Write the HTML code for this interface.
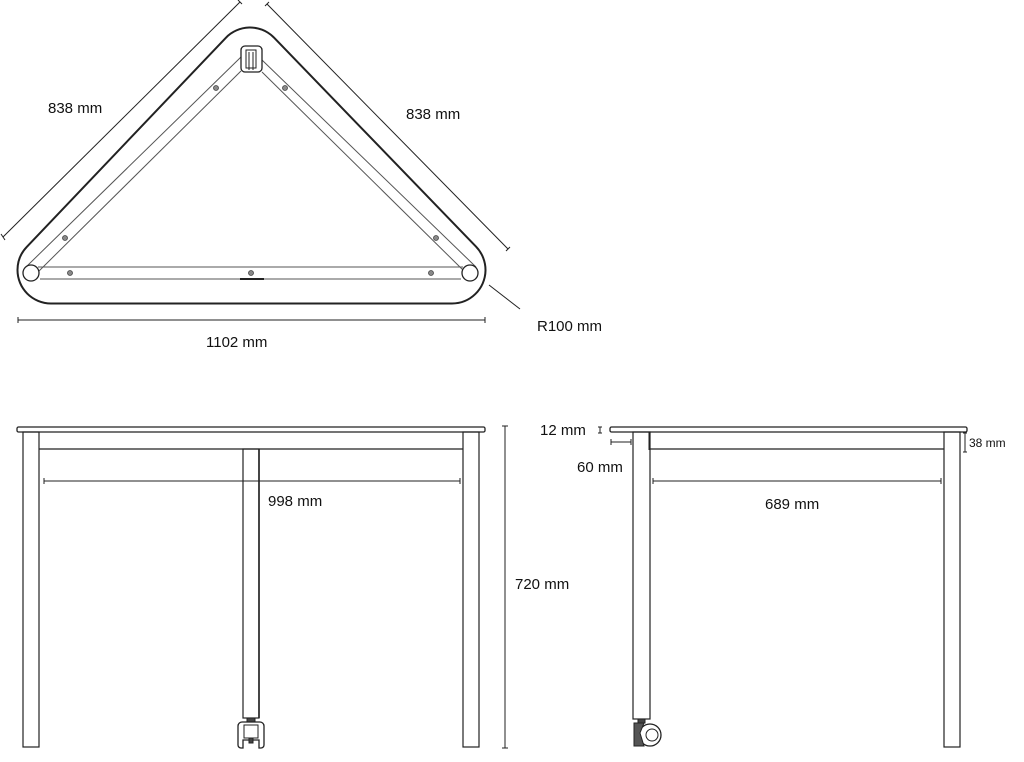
<!DOCTYPE html>
<html><head><meta charset="utf-8"><style>
html,body{margin:0;padding:0;background:#fff;width:1024px;height:762px;overflow:hidden}
svg{display:block}
text{font-family:"Liberation Sans",sans-serif;font-size:15px;fill:#111}
</style></head><body>
<svg width="1024" height="762" viewBox="0 0 1024 762" xmlns="http://www.w3.org/2000/svg">
<g fill="none" stroke="#222" stroke-width="1">
<!-- Top view outer -->
<polygon points="51,270 250,61 452,270" stroke="#222" stroke-width="69" stroke-linejoin="round"/>
<polygon points="51,270 250,61 452,270" stroke="#fff" fill="#fff" stroke-width="65" stroke-linejoin="round"/>
<!-- bottom rail -->
<line x1="38" y1="267" x2="463" y2="267" stroke="#555"/>
<line x1="40" y1="279" x2="461" y2="279" stroke="#555"/>
<line x1="240" y1="279" x2="264" y2="279" stroke-width="2"/>
<!-- side rails -->
<line x1="26" y1="267" x2="241" y2="57" stroke="#555"/>
<line x1="38" y1="272" x2="241" y2="71" stroke="#555"/>
<line x1="476" y1="267" x2="262" y2="60" stroke="#555"/>
<line x1="465" y1="272" x2="262" y2="72" stroke="#555"/>
<circle cx="31" cy="273" r="8" fill="#fff" stroke-width="1.3"/>
<circle cx="470" cy="273" r="8" fill="#fff" stroke-width="1.3"/>
<rect x="241" y="46" width="21" height="26" rx="4" fill="#fff" stroke-width="1.3"/>
<rect x="246" y="50" width="10" height="18" stroke-width="1"/>
<line x1="249" y1="52" x2="249" y2="70"/><line x1="253" y1="52" x2="253" y2="70"/>
<g fill="#888" stroke="#444" stroke-width="0.8">
<circle cx="65" cy="238" r="2.5"/><circle cx="70" cy="273" r="2.5"/><circle cx="251" cy="273" r="2.5"/>
<circle cx="431" cy="273" r="2.5"/><circle cx="436" cy="238" r="2.5"/><circle cx="216" cy="88" r="2.5"/><circle cx="285" cy="88" r="2.5"/>
</g>
<!-- dims top -->
<line x1="3" y1="237" x2="240" y2="2"/><line x1="1" y1="234" x2="5" y2="240"/><line x1="238" y1="0" x2="242" y2="4"/>
<line x1="267" y1="4" x2="508" y2="249"/><line x1="265" y1="6" x2="269" y2="2"/><line x1="506" y1="251" x2="510" y2="247"/>
<line x1="489" y1="285" x2="520" y2="309"/>
<line x1="18" y1="320" x2="485" y2="320"/><line x1="18" y1="317" x2="18" y2="323"/><line x1="485" y1="317" x2="485" y2="323"/>

<!-- Front view -->
<rect x="17" y="427" width="468" height="5" rx="1.5" stroke-width="1.3"/>
<line x1="39" y1="432" x2="39" y2="450"/><line x1="463" y1="432" x2="463" y2="450"/>
<line x1="39" y1="449" x2="463" y2="449" stroke-width="1.2"/>
<rect x="23" y="432" width="16" height="315" stroke-width="1.2"/>
<rect x="463" y="432" width="16" height="315" stroke-width="1.2"/>
<rect x="243" y="449" width="16" height="269" stroke-width="1.2"/>
<line x1="259" y1="449" x2="259" y2="718" stroke-width="1.6"/>
<rect x="247" y="718" width="8" height="4" fill="#444"/>
<path d="M242,722 h18 a4,4 0 0 1 4,4 v19 a3,3 0 0 1 -3,3 h-2 v-8 h-16 v8 h-2 a3,3 0 0 1 -3,-3 v-19 a4,4 0 0 1 4,-4z" stroke-width="1.3"/>
<rect x="244" y="725" width="14" height="13"/>
<rect x="249" y="738" width="4" height="5" fill="#444"/>
<line x1="44" y1="481" x2="460" y2="481"/><line x1="44" y1="478" x2="44" y2="484"/><line x1="460" y1="478" x2="460" y2="484"/>
<line x1="505" y1="426" x2="505" y2="748"/><line x1="502" y1="426" x2="508" y2="426"/><line x1="502" y1="748" x2="508" y2="748"/>

<!-- Side view -->
<rect x="610" y="427" width="357" height="5" rx="1.5" stroke-width="1.3"/>
<line x1="649" y1="432" x2="649" y2="450"/><line x1="944" y1="432" x2="944" y2="450"/>
<line x1="649" y1="449" x2="944" y2="449" stroke-width="1.2"/>
<rect x="633" y="432" width="17" height="287" stroke-width="1.2"/>
<rect x="944" y="432" width="16" height="315" stroke-width="1.2"/>
<rect x="638" y="719" width="7" height="4" fill="#444"/>
<circle cx="650" cy="735" r="11" fill="#fff" stroke-width="1.3"/>
<circle cx="652" cy="735" r="6"/>
<path d="M634,723 h10 l-4,10 l4,13 h-10 z" fill="#555" stroke-width="1"/>
<line x1="653" y1="481" x2="941" y2="481"/><line x1="653" y1="478" x2="653" y2="484"/><line x1="941" y1="478" x2="941" y2="484"/>
<line x1="611" y1="442" x2="631" y2="442"/><line x1="611" y1="439" x2="611" y2="445"/><line x1="631" y1="439" x2="631" y2="445"/>
<line x1="600" y1="427" x2="600" y2="433"/><line x1="598" y1="427" x2="602" y2="427"/><line x1="598" y1="433" x2="602" y2="433"/>
<line x1="965" y1="433" x2="965" y2="452"/><line x1="963" y1="433" x2="967" y2="433"/><line x1="963" y1="452" x2="967" y2="452"/>
</g>
<text x="48" y="113">838 mm</text>
<text x="406" y="119">838 mm</text>
<text x="206" y="347">1102 mm</text>
<text x="537" y="331">R100 mm</text>
<text x="268" y="506">998 mm</text>
<text x="515" y="589">720 mm</text>
<text x="540" y="435">12 mm</text>
<text x="577" y="472">60 mm</text>
<text x="969" y="447" style="font-size:12px">38 mm</text>
<text x="765" y="509">689 mm</text>
</svg>
</body></html>
